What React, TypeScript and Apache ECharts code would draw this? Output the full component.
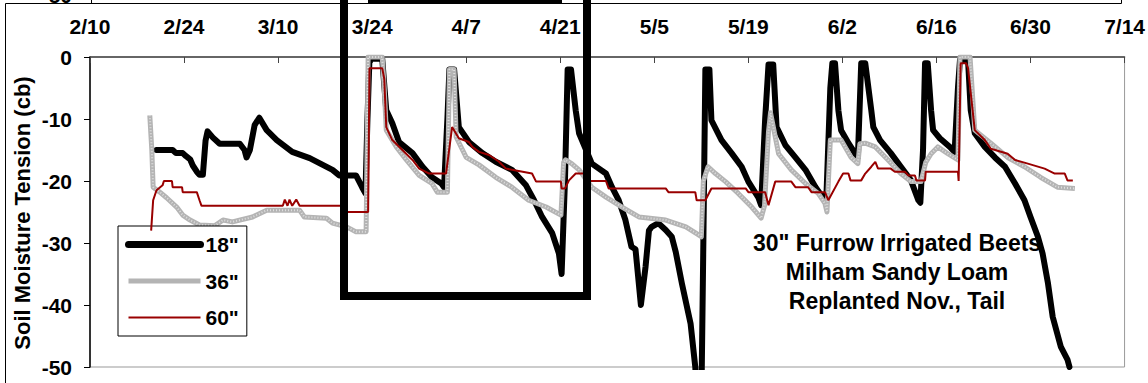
import React, { useEffect, useRef } from "react";
import * as echarts from "echarts";

const FONT = "'Liberation Sans', Arial, Helvetica, sans-serif";

// x = days after 2/10
const dateTicks = ["2/10", "2/24", "3/10", "3/24", "4/7", "4/21", "5/5", "5/19", "6/2", "6/16", "6/30", "7/14"];
const yTicks = [0, -10, -20, -30, -40, -50];

const depth18: [number, number][] = [
  [9.9, -15], [12.3, -15], [12.8, -15.5], [13.8, -15.5], [14.3, -16], [14.9, -16.5], [15.3, -17.5], [15.9, -18.5],
  [16.3, -19], [16.8, -19], [17.2, -13.5], [17.5, -12], [18.3, -13], [19.3, -14], [22.3, -14], [23.0, -15],
  [23.3, -16.2], [23.8, -15], [24.5, -11], [25.2, -9.8], [26.3, -11.8], [27.8, -13.4], [30.1, -15.3], [32.7, -16.3],
  [36.1, -18.2], [37.1, -19.1], [39.6, -19.1], [40.5, -21], [41.0, -22], [41.3, -10], [41.6, -0.3], [43.5, -0.3],
  [44.1, -8.6], [45.0, -10.7], [46.0, -13.7], [48.0, -15.5], [49.5, -17.7], [50.9, -19.4], [52.3, -20.4], [52.7, -21],
  [53.2, -10], [53.5, -2], [54.2, -2], [54.9, -11.3], [56.4, -13.7], [58.4, -15.5], [60.4, -16.9], [62.8, -18.2],
  [64.9, -20.7], [66.1, -23.1], [67.3, -25.8], [68.8, -28.4], [69.8, -31.7], [70.2, -35], [70.7, -20], [71.1, -2],
  [71.6, -2], [72.3, -8.6], [72.8, -12.3], [74.7, -17.2], [76.8, -18.8], [77.7, -21], [78.7, -23.1], [79.7, -26.3],
  [80.6, -30.6], [81.2, -31], [82.0, -40], [82.7, -33.8], [83.2, -28], [83.6, -27.4], [84.6, -26.8], [85.7, -27.9],
  [86.6, -29], [87.2, -31.5], [88.1, -36.5], [89.4, -43], [90.1, -50], [90.4, -56], [91.0, -56], [91.3, -30],
  [91.6, -2], [92.2, -2], [92.5, -10.2], [94.0, -13.4], [95.5, -15.5], [97.0, -17.7], [98.0, -20.1], [99.5, -22.7],
  [99.9, -23.9], [100.5, -10], [101.0, -1.2], [101.7, -1.2], [102.2, -11.3], [103.5, -14.2], [105.0, -16.2],
  [106.5, -18.2], [108.0, -21], [109.1, -22.7], [109.6, -23], [110.2, -5], [110.5, -1], [110.9, -1], [111.4, -8.6],
  [111.8, -11.8], [112.9, -13.9], [113.9, -15.6], [114.3, -16.2], [114.8, -1], [115.4, -1], [116.3, -8.6],
  [116.6, -11.3], [117.6, -13.4], [119.2, -15.5], [120.7, -17.7], [122.2, -19.9], [123.3, -23.1], [123.6, -23.5],
  [124.0, -15], [124.3, -1], [124.7, -1], [125.2, -8.6], [125.5, -11.8], [126.5, -13.1], [128.0, -14.5],
  [128.7, -15.3], [129.2, -5], [129.5, -0.5], [130.7, -0.5], [131.1, -8.6], [131.7, -12.3], [133.2, -14.5],
  [134.7, -16.2], [136.2, -17.7], [137.7, -20.4], [139.1, -23.1], [140.0, -25.8], [141.1, -29], [141.8, -31.7],
  [142.6, -36.5], [143.3, -41.9], [144.5, -46.7], [145.5, -48.8], [145.8, -50],
];

const depth36: [number, number][] = [
  [8.9, -9.4], [9.2, -15], [9.4, -21], [10.4, -21.8], [11.4, -22.7], [12.9, -24.2], [13.8, -25.5], [14.9, -26.3],
  [16.3, -27.1], [18.6, -27.2], [19.8, -26.3], [21.2, -26.6], [24.2, -25.8], [26.3, -24.7], [31.2, -24.7],
  [31.9, -25.8], [35.2, -26], [36.1, -26.8], [38.2, -27.4], [39.6, -28.2], [41.1, -28.2], [41.4, 0], [43.5, 0],
  [43.8, -5], [44.1, -11.8], [45.6, -14.5], [47.1, -16.6], [49.0, -19.1], [50.9, -20.4], [51.7, -21.8], [53.2, -21.8],
  [53.5, -2], [54.2, -2], [54.5, -12.9], [56.0, -16.2], [57.9, -17.4], [60.4, -19.4], [62.8, -21], [65.3, -23.1],
  [67.9, -24.2], [70.1, -25.5], [70.5, -17], [70.8, -16.6], [71.7, -17.2], [72.8, -18.2], [74.7, -21], [76.8, -22.6],
  [79.2, -24.2], [81.7, -25.8], [85.7, -26.3], [88.7, -27.4], [90.6, -28.7], [91.0, -29], [91.3, -20], [92.0, -17.7],
  [93.1, -18.8], [94.6, -20.1], [96.5, -22], [98.5, -24.2], [99.9, -26], [100.4, -24], [101.0, -12], [101.3, -9],
  [102.5, -15.6], [104.4, -18.2], [106.5, -20.4], [108.4, -22], [109.4, -23.6], [109.7, -25], [110.2, -13.4],
  [111.8, -13.4], [113.3, -16.2], [114.3, -17.2], [114.6, -14], [115.4, -13.9], [116.9, -14.5], [118.8, -16.6],
  [120.7, -18.8], [122.2, -20.1], [123.7, -20.1], [124.4, -17], [125.2, -15.6], [126.2, -14.5], [127.7, -15.6],
  [129.2, -16.6], [129.5, 0], [131.0, 0], [131.7, -11.8], [134.1, -13.9], [136.6, -16.2], [139.1, -17.7],
  [141.5, -19.4], [144.0, -21], [146.6, -21.2],
];

const depth60: [number, number][] = [
  [9.1, -28], [9.4, -23.1], [9.9, -21.5], [10.8, -20.7], [11.0, -20], [12.2, -20], [12.3, -21], [13.7, -21],
  [13.8, -21.8], [15.9, -21.8], [16.3, -23.1], [16.6, -24], [28.7, -24], [29.0, -23], [29.4, -24], [29.7, -23],
  [30.1, -24], [30.7, -23], [31.2, -24], [37.6, -24], [37.7, -25], [41.4, -25], [41.6, -1.8], [43.5, -1.8],
  [43.8, -3.5], [44.1, -11.3], [45.0, -13.4], [46.5, -15], [48.0, -16.6], [49.0, -18], [50.5, -18.8], [53.0, -18.8],
  [53.9, -11.3], [54.9, -13.1], [56.4, -13.7], [56.9, -14.5], [57.9, -15.3], [59.4, -15.8], [60.9, -16.9],
  [61.9, -18], [63.4, -18.3], [65.8, -18.8], [66.4, -20.1], [70.1, -20.1], [70.2, -21.2], [70.7, -21.2],
  [71.3, -19.9], [72.3, -18.8], [73.7, -18.8], [74.3, -20], [76.8, -20], [77.2, -21.2], [85.7, -21.2],
  [86.1, -21.8], [90.1, -21.8], [90.3, -23.1], [91.6, -23.1], [92.5, -21.2], [97.6, -21.2], [98.0, -21.8],
  [100.5, -21.8], [101.0, -23.9], [102.0, -20.1], [104.4, -20.1], [105.0, -21], [106.9, -21], [107.4, -21.8],
  [109.4, -21.8], [109.9, -23.1], [111.4, -20.1], [112.1, -18.8], [112.9, -18.8], [113.2, -19.9], [114.8, -19.9],
  [115.4, -18.8], [116.3, -17.7], [116.9, -16.9], [117.3, -18], [119.2, -18], [119.8, -18.5], [121.3, -18.5],
  [121.8, -19.1], [122.8, -19.1], [123.0, -19.9], [124.3, -19.9], [124.4, -18.5], [129.2, -18.5], [129.3, -20],
  [129.6, -1], [130.4, -1], [130.7, -1.8], [131.7, -11.8], [133.2, -13.4], [134.1, -14.8], [136.6, -15.6],
  [137.7, -16.6], [139.6, -17.2], [142.1, -18], [143.6, -18.8], [145.1, -18.8], [145.5, -19.9], [146.3, -19.9],
];

const seriesNames = ['18"', '36"', '60"'];
const noteLines = ['30" Furrow Irrigated Beets', "Milham Sandy Loam", "Replanted Nov., Tail"];
const yTitle = "Soil Moisture Tension (cb)";

export default function App() {
  const ref = useRef<HTMLDivElement>(null);
  useEffect(() => {
    if (!ref.current) return;
    const chart = echarts.init(ref.current, undefined, { renderer: "svg" });
    const bold = { fontFamily: FONT, fontWeight: "bold" as const, color: "#000" };
    chart.setOption({
      animation: false,
      backgroundColor: "#fff",
      grid: { left: 90, right: 21, top: 57, bottom: 16, show: true, borderColor: "#999", borderWidth: 1 },
      xAxis: {
        type: "value",
        position: "top",
        min: 0,
        max: 154,
        interval: 14,
        axisLine: { show: true, lineStyle: { color: "#444", width: 1.5 } },
        axisTick: { show: true, inside: true, length: 6, lineStyle: { color: "#444" } },
        axisLabel: { ...bold, fontSize: 21, margin: 20, formatter: (v: number) => dateTicks[Math.round(v / 14)] },
        splitLine: { show: false },
      },
      yAxis: {
        type: "value",
        min: yTicks[yTicks.length - 1],
        max: yTicks[0],
        interval: 10,
        axisLine: { show: true, lineStyle: { color: "#000", width: 1.5 } },
        axisTick: { show: true, length: 6, lineStyle: { color: "#000" } },
        axisLabel: { ...bold, fontSize: 21, margin: 18 },
        splitLine: { show: false },
      },
      legend: {
        data: [
          { name: seriesNames[0], lineStyle: { width: 7, color: "#000" } },
          { name: seriesNames[1], lineStyle: { width: 5, color: "#b4b4b4" } },
          { name: seriesNames[2], lineStyle: { width: 2, color: "#990000" } },
        ],
        orient: "vertical",
        left: 118,
        top: 226,
        itemWidth: 72,
        itemHeight: 14,
        itemGap: 15.5,
        padding: [8, 8, 8, 7],
        borderColor: "#000",
        borderWidth: 1,
        backgroundColor: "#fff",
        borderRadius: 0,
        itemStyle: { opacity: 0 },
        textStyle: { ...bold, fontSize: 21 },
      },
      series: [
        {
          name: seriesNames[0], type: "line", data: depth18, showSymbol: false, symbol: "none",
          lineStyle: { color: "#000", width: 6, join: "round", cap: "round" }, itemStyle: { color: "#000" }, z: 2,
        },
        {
          name: seriesNames[1], type: "line", data: depth36, showSymbol: false, symbol: "none",
          lineStyle: { color: "#b4b4b4", width: 5, join: "round" }, itemStyle: { color: "#b4b4b4" }, z: 3,
        },
        {
          name: "36in-texture", type: "line", data: depth36, showSymbol: false, symbol: "none", silent: true,
          lineStyle: { color: "#dedede", width: 2, type: [1, 2] }, z: 3,
        },
        {
          name: seriesNames[2], type: "line", data: depth60, showSymbol: false, symbol: "none",
          lineStyle: { color: "#990000", width: 2 }, itemStyle: { color: "#990000" }, z: 4,
        },
      ],
      graphic: [
        {
          type: "text", z: 50, x: 22, y: 213, rotation: Math.PI / 2,
          style: { text: yTitle, font: `bold 22px ${FONT}`, fill: "#000", textAlign: "center", textVerticalAlign: "middle" },
        },
        {
          type: "text", z: 50, x: 897, y: 272,
          style: {
            text: noteLines.join("\n"), font: `bold 23px ${FONT}`, fill: "#000", textAlign: "center",
            textVerticalAlign: "middle", lineHeight: 29,
          },
        },
        {
          type: "rect", z: 100, shape: { x: 344, y: -40, width: 243, height: 336 },
          style: { fill: "none", stroke: "#000", lineWidth: 8 },
        },
        { type: "rect", z: 100, shape: { x: 368, y: 0, width: 194, height: 4 }, style: { fill: "#000" } },
        {
          type: "polyline", z: 90, shape: { points: [[5.5, 383], [5.5, 3.5], [1121.5, 3.5], [1121.5, 0]] },
          style: { fill: "none", stroke: "#000", lineWidth: 1 },
        },
        { type: "line", z: 90, shape: { x1: 91.5, y1: 0, x2: 91.5, y2: 3 }, style: { stroke: "#000", lineWidth: 1 } },
        {
          type: "text", z: 90, x: 72, y: -4.5,
          style: { text: "-50", font: `bold 21px ${FONT}`, fill: "#000", textAlign: "right", textVerticalAlign: "middle" },
        },
      ],
    });
    return () => chart.dispose();
  }, []);
  return <div ref={ref} style={{ width: 1148, height: 383, position: "absolute", left: 0, top: 0 }} />;
}
